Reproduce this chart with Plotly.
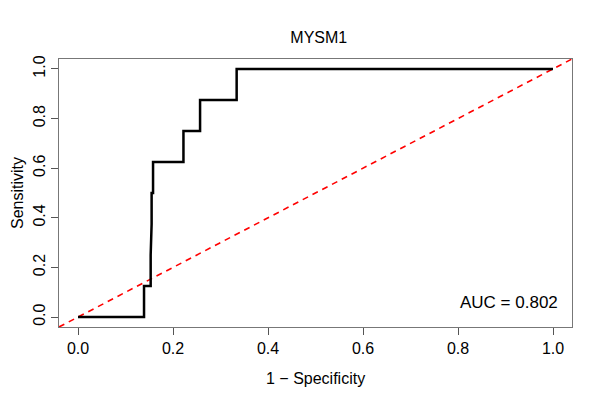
import plotly.graph_objects as go

# ROC curve points (1 - specificity, sensitivity)
fpr = [0.0, 0.139, 0.139, 0.153, 0.153, 0.155, 0.155, 0.158, 0.158,
       0.222, 0.222, 0.257, 0.257, 0.334, 0.334, 1.0]
tpr = [0.0, 0.0, 0.125, 0.125, 0.25, 0.375, 0.5, 0.5, 0.625,
       0.625, 0.75, 0.75, 0.875, 0.875, 1.0, 1.0]

ticks = [0.0, 0.2, 0.4, 0.6, 0.8, 1.0]
tick_text = ["0.0", "0.2", "0.4", "0.6", "0.8", "1.0"]
auc = 0.802

fig = go.Figure()

# reference diagonal
fig.add_trace(go.Scatter(x=[-0.04, 1.04], y=[-0.04, 1.04], mode="lines",
                         line=dict(color="red", width=1.6, dash="6px,5px"),
                         hoverinfo="skip"))

# ROC step curve
fig.add_trace(go.Scatter(x=fpr, y=tpr, mode="lines",
                         line=dict(color="black", width=2.5)))

fig.add_annotation(x=1.015, y=0.06, xanchor="right", yanchor="middle",
                   text=f"AUC = {auc}", showarrow=False,
                   font=dict(size=17, color="black"))

# axis titles placed as annotations, like R's mtext
fig.add_annotation(x=0.5, y=0, xref="paper", yref="paper", yshift=-51,
                   text="1 − Specificity", showarrow=False,
                   yanchor="middle", font=dict(size=16, color="black"))
fig.add_annotation(x=0, y=0.5, xref="paper", yref="paper", xshift=-42,
                   text="Sensitivity", showarrow=False, textangle=-90,
                   xanchor="center", font=dict(size=16, color="black"))

axis_style = dict(range=[-0.04, 1.04], tickvals=ticks, ticktext=tick_text,
                  showgrid=False, zeroline=False, showline=True, mirror=True,
                  linecolor="#777", linewidth=1, ticks="outside", ticklen=7,
                  tickcolor="#555", tickfont=dict(size=16, color="black"),
                  automargin=False)

fig.update_xaxes(**axis_style)
fig.update_yaxes(**axis_style, tickangle=-90)

# the page adds an 8px body margin, so the figure is 592x392
fig.update_layout(
    width=592, height=392,
    margin=dict(l=51, r=28, t=51, b=73),
    paper_bgcolor="white", plot_bgcolor="white",
    showlegend=False,
    font=dict(family="Liberation Sans, Arial, sans-serif"),
    title=dict(text="MYSM1", x=0.525, xanchor="center", y=1 - 29 / 392,
               yanchor="middle", font=dict(size=16, color="black")),
)

fig.write_html("out.html")
